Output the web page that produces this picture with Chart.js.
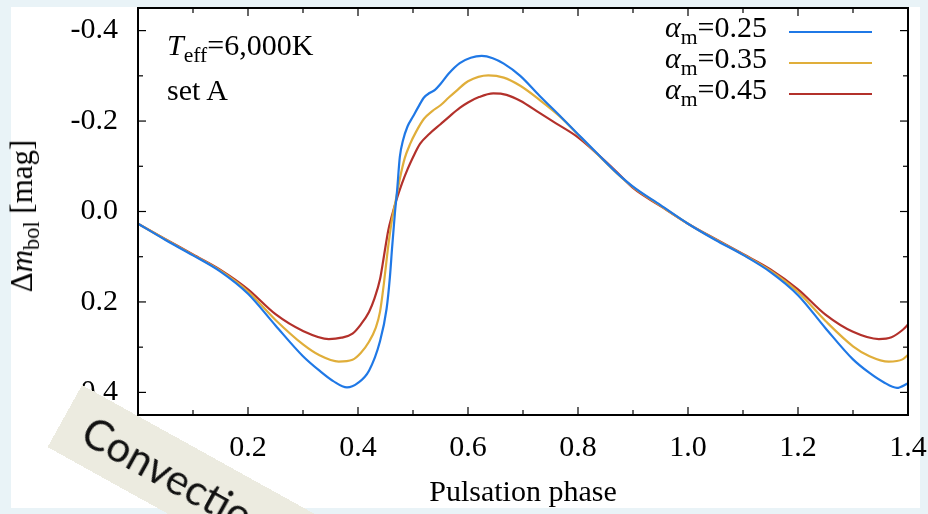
<!DOCTYPE html>
<html>
<head>
<meta charset="utf-8">
<title>Pulsation light curves</title>
<script src="https://cdn.jsdelivr.net/npm/chart.js@4.4.1/dist/chart.umd.min.js"></script>
<style>
  html, body { margin: 0; padding: 0; }
  body {
    width: 928px; height: 514px; overflow: hidden; position: relative;
    background: #e9f3f7; font-family: "Liberation Serif", serif; color: #000;
  }
  #panel { position: absolute; left: 11px; top: 7px; width: 909px; height: 501px; background: #fff; }
  #chart { position: absolute; left: 0; top: 0; }
  .txt { position: absolute; font-size: 30px; line-height: 30px; white-space: nowrap; }
  .sub { font-size: 0.72em; position: relative; top: 0.32em; }
  #ytitle { left: 23px; top: 216px; font-size: 31px; line-height: 31px; transform: translate(-50%, -50%) rotate(-90deg); }
  .legrow { position: absolute; left: 0; width: 928px; height: 30px; }
  .leglab { position: absolute; right: 161px; top: 0; font-size: 30px; line-height: 30px; white-space: nowrap; }
  .legline { position: absolute; left: 789px; width: 83px; height: 2px; top: 19px; }
  #note {
    position: absolute; left: 82px; top: 385px; width: 700px; height: 71px;
    transform-origin: 0 0; transform: rotate(29deg);
    background: #ecebe0; font-family: Lato, "Open Sans", sans-serif; font-size: 42px;
    line-height: 71px; padding-left: 24px; box-sizing: border-box; color: #111;
  }
</style>
</head>
<body>
<div id="panel"></div>
<canvas id="chart" width="928" height="514"></canvas>
<div id="legend"></div>
<div class="txt" style="left:167px; top:30px;"><i>T</i><span class="sub">eff</span>=6,000K</div>
<div class="txt" style="left:167px; top:75px;">set A</div>
<div id="ytitle" class="txt">Δ<i>m</i><span class="sub">bol</span> [mag]</div>
<div id="note">Convection</div>

<script>
// alpha_m values of the three models
const alphaValues = ['0.25', '0.35', '0.45'];

// Delta m_bol [mag] against pulsation phase
const phase025 = [0.00, 0.05, 0.10, 0.15, 0.20, 0.25, 0.30, 0.33, 0.355, 0.38, 0.40, 0.42, 0.44, 0.452, 0.458, 0.462, 0.467, 0.471, 0.476, 0.482, 0.49, 0.50, 0.51, 0.52, 0.53, 0.54, 0.55, 0.565, 0.585, 0.605, 0.625, 0.645, 0.665, 0.695, 0.73, 0.77, 0.80, 0.84, 0.87, 0.90, 0.95, 1.00, 1.05, 1.10, 1.15, 1.20, 1.25, 1.30, 1.33, 1.355, 1.38, 1.40];
const mag025   = [0.027, 0.063, 0.097, 0.133, 0.182, 0.252, 0.320, 0.352, 0.375, 0.389, 0.379, 0.352, 0.287, 0.215, 0.145, 0.080, 0.005, -0.045, -0.120, -0.158, -0.188, -0.210, -0.232, -0.252, -0.262, -0.269, -0.282, -0.305, -0.328, -0.340, -0.344, -0.339, -0.327, -0.300, -0.256, -0.208, -0.171, -0.122, -0.086, -0.055, -0.014, 0.027, 0.063, 0.096, 0.134, 0.185, 0.258, 0.327, 0.357, 0.377, 0.390, 0.380];

const phase035 = [0.00, 0.05, 0.10, 0.15, 0.20, 0.25, 0.30, 0.33, 0.365, 0.39, 0.405, 0.42, 0.432, 0.44, 0.447, 0.454, 0.461, 0.469, 0.476, 0.485, 0.495, 0.505, 0.52, 0.535, 0.55, 0.565, 0.58, 0.60, 0.637, 0.665, 0.695, 0.73, 0.77, 0.80, 0.84, 0.87, 0.90, 0.95, 1.00, 1.05, 1.10, 1.15, 1.20, 1.25, 1.30, 1.33, 1.365, 1.39, 1.40];
const mag035   = [0.027, 0.062, 0.096, 0.131, 0.177, 0.240, 0.294, 0.318, 0.332, 0.328, 0.313, 0.288, 0.258, 0.222, 0.160, 0.086, 0.024, -0.027, -0.072, -0.118, -0.150, -0.175, -0.205, -0.222, -0.235, -0.252, -0.268, -0.288, -0.301, -0.296, -0.278, -0.247, -0.207, -0.170, -0.121, -0.085, -0.054, -0.013, 0.027, 0.062, 0.095, 0.131, 0.178, 0.242, 0.298, 0.320, 0.332, 0.327, 0.317];

const phase045 = [0.00, 0.05, 0.10, 0.15, 0.20, 0.25, 0.30, 0.347, 0.37, 0.39, 0.405, 0.42, 0.43, 0.44, 0.447, 0.455, 0.462, 0.469, 0.48, 0.49, 0.50, 0.513, 0.53, 0.55, 0.567, 0.585, 0.60, 0.62, 0.646, 0.67, 0.695, 0.73, 0.76, 0.80, 0.84, 0.87, 0.90, 0.95, 1.00, 1.05, 1.10, 1.15, 1.20, 1.25, 1.30, 1.347, 1.37, 1.39, 1.40];
const mag045   = [0.027, 0.061, 0.095, 0.129, 0.172, 0.227, 0.264, 0.282, 0.279, 0.270, 0.250, 0.222, 0.192, 0.150, 0.100, 0.042, 0.008, -0.022, -0.062, -0.093, -0.120, -0.150, -0.172, -0.193, -0.211, -0.229, -0.241, -0.253, -0.261, -0.258, -0.245, -0.218, -0.195, -0.164, -0.122, -0.088, -0.052, -0.012, 0.027, 0.061, 0.094, 0.128, 0.172, 0.228, 0.266, 0.282, 0.278, 0.262, 0.250];

const xTicks = [0.0, 0.2, 0.4, 0.6, 0.8, 1.0, 1.2, 1.4];
const yTicks = [-0.4, -0.2, 0.0, 0.2, 0.4];
const xTitle = 'Pulsation phase';

const lineColors = ['#1f78e6', '#e0ae3a', '#b3312b'];

const toPoints = (xs, ys) => xs.map((p, i) => ({ x: p, y: ys[i] }));
const series = [toPoints(phase025, mag025), toPoints(phase035, mag035), toPoints(phase045, mag045)];

// html legend, alpha with subscript m
const legend = document.getElementById('legend');
alphaValues.forEach((a, i) => {
  const row = document.createElement('div');
  row.className = 'legrow';
  row.style.top = (12 + i * 31) + 'px';
  row.innerHTML = '<span class="leglab"><i>α</i><span class="sub">m</span>=' + a + '</span>' +
    '<span class="legline" style="background:' + lineColors[i] + '"></span>';
  legend.appendChild(row);
});

// closed frame with inward major / minor ticks on all four sides
const frameTicks = {
  id: 'frameTicks',
  afterDatasetsDraw(chart) {
    const { ctx, chartArea: a, scales: { x, y } } = chart;
    const withMinor = vals => {
      const out = [];
      vals.forEach((v, i) => {
        out.push([v, true]);
        if (i < vals.length - 1) out.push([(v + vals[i + 1]) / 2, false]);
      });
      return out;
    };
    const seg = (x1, y1, x2, y2) => { ctx.beginPath(); ctx.moveTo(x1, y1); ctx.lineTo(x2, y2); ctx.stroke(); };
    ctx.save();
    ctx.strokeStyle = '#000';
    ctx.lineWidth = 1.2;
    withMinor(xTicks).forEach(([v, major]) => {
      const px = x.getPixelForValue(v);
      const l = major ? 8 : 5;
      seg(px, a.bottom, px, a.bottom - l);
      seg(px, a.top, px, a.top + l);
    });
    withMinor(yTicks).forEach(([v, major]) => {
      const py = y.getPixelForValue(v);
      const l = major ? 8 : 5;
      seg(a.left, py, a.left + l, py);
      seg(a.right, py, a.right - l, py);
    });
    ctx.lineWidth = 2;
    ctx.strokeRect(a.left, a.top, a.right - a.left, a.bottom - a.top);
    ctx.restore();
  }
};

Chart.defaults.color = '#000';
Chart.defaults.font.family = '"Liberation Serif", serif';

new Chart(document.getElementById('chart'), {
  type: 'line',
  data: {
    datasets: series.map((pts, i) => ({
      label: 'αm=' + alphaValues[i],
      data: pts,
      borderColor: lineColors[i],
      backgroundColor: lineColors[i],
      borderWidth: 2.2,
      pointRadius: 0,
      fill: false,
      cubicInterpolationMode: 'monotone'
    }))
  },
  options: {
    responsive: false,
    animation: false,
    devicePixelRatio: 1,
    layout: { padding: { left: 10, right: 20, top: 8, bottom: 0 } },
    plugins: { legend: { display: false }, tooltip: { enabled: false } },
    scales: {
      x: {
        type: 'linear', min: 0, max: 1.4,
        afterBuildTicks: s => { s.ticks = xTicks.map(v => ({ value: v })); },
        afterFit: s => { s.height = 99; s.paddingLeft = 0; s.paddingRight = 0; },
        grid: { display: false, drawTicks: false },
        border: { display: false },
        ticks: {
          font: { size: 30 }, color: '#000', padding: 15, maxRotation: 0, autoSkip: false,
          callback: v => v.toFixed(1)
        },
        title: { display: true, text: xTitle, font: { size: 30 }, color: '#000', padding: { top: 0, bottom: 3 } }
      },
      y: {
        type: 'linear', reverse: true, min: -0.45, max: 0.45,
        afterBuildTicks: s => { s.ticks = yTicks.map(v => ({ value: v })); },
        afterFit: s => { s.width = 128; s.paddingTop = 0; s.paddingBottom = 0; },
        grid: { display: false, drawTicks: false },
        border: { display: false },
        ticks: {
          font: { size: 30 }, color: '#000', padding: 20, autoSkip: false,
          callback: v => v.toFixed(1)
        }
      }
    }
  },
  plugins: [frameTicks]
});
</script>
</body>
</html>
